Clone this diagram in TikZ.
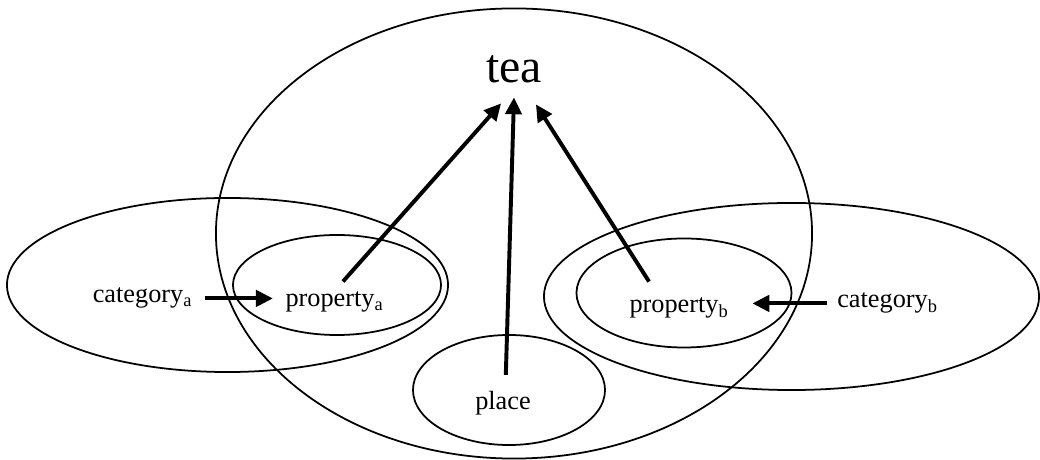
\documentclass[tikz,border=0pt]{standalone}
\usepackage{fontspec}
\setmainfont{Liberation Serif}
\usetikzlibrary{shapes.geometric,arrows.meta}

\begin{document}
\begin{tikzpicture}[x=0.025cm,y=0.025cm,
  region/.style={draw,ellipse,line width=1.25pt,inner sep=0pt,outer sep=0pt},
  word/.style={inner sep=0pt,outer sep=0pt,anchor=base,font=\fontsize{18.7}{22}\selectfont},
  link/.style={line width=2.8pt,-{Triangle[length=12pt,width=11.5pt]}}]
  \useasboundingbox (0,0) rectangle (1040,460);
  % sets
  \node[region,minimum width=14.9cm,minimum height=11.25cm] (teaset) at (514,226.5) {};
  \node[region,minimum width=11.025cm,minimum height=4.35cm] (cataset) at (227.5,175) {};
  \node[region,minimum width=5.2cm,minimum height=2.5cm] (propaset) at (337,175) {};
  \node[region,minimum width=12.375cm,minimum height=4.675cm] (catbset) at (791.5,163.5) {};
  \node[region,minimum width=5.375cm,minimum height=2.725cm] (propbset) at (684,167) {};
  \node[region,minimum width=4.8cm,minimum height=2.75cm] (placeset) at (509,70) {};
  % words
  \node[word,font=\fontsize{34}{40}\selectfont] (tea) at (514,377) {tea};
  \node[word] (cata) at (142.5,157) {category\textsubscript{a}};
  \node[word] (propa) at (334.5,153) {property\textsubscript{a}};
  \node[word] (propb) at (679,147) {property\textsubscript{b}};
  \node[word] (catb) at (887.5,152) {category\textsubscript{b}};
  \node[word] (place) at (503,50) {place};
  % links
  \draw[link,shorten <=9pt,shorten >=9pt] (cata.east) -- (cata.east -| propa.west);
  \draw[link,shorten <=7pt,shorten >=17pt] (catb.west) -- (catb.west -| propb.east);
  \draw[link] ([xshift=6pt,yshift=7.6pt]propa.north) -- ([xshift=-9.2pt,yshift=-14.2pt]tea.south);
  \draw[link] ([xshift=2pt,yshift=12pt]place.north) -- ([yshift=-9.9pt]tea.south);
  \draw[link] ([xshift=-21.3pt,yshift=11.8pt]propb.north) -- ([xshift=15.6pt,yshift=-14.9pt]tea.south);
\end{tikzpicture}
\end{document}
